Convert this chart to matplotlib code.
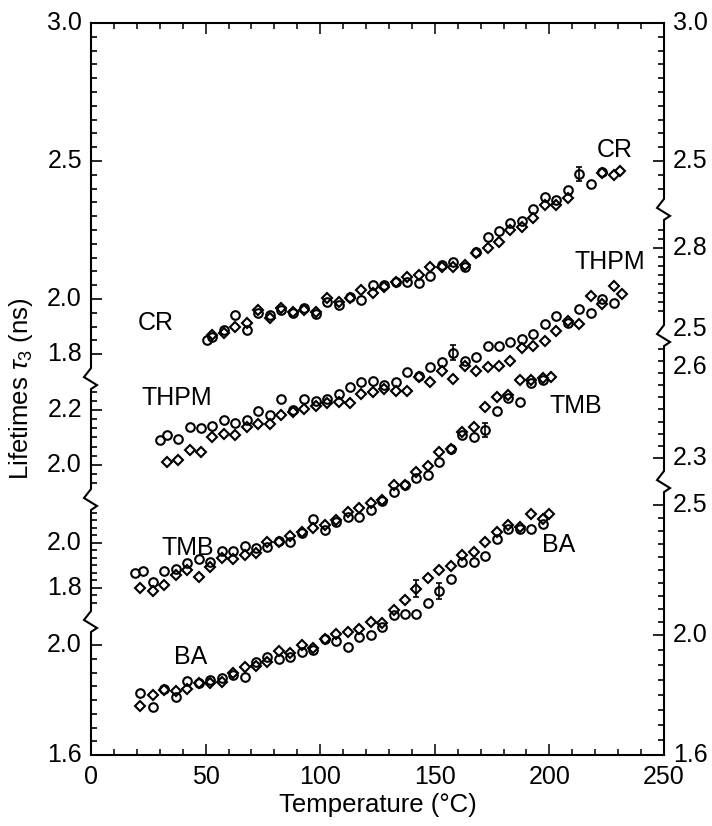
import numpy as np
import matplotlib.pyplot as plt
from matplotlib.ticker import MultipleLocator

plt.rcParams.update({
    "font.family": ["Liberation Sans", "DejaVu Sans"],
    "font.size": 18,
    "mathtext.fontset": "custom",
    "mathtext.rm": "Liberation Sans",
    "mathtext.it": "Liberation Sans:italic",
})

# --- lifetimes tau3 (ns) vs temperature (C), circles and diamonds per sample ---
cr_t_circ = [50.5, 53, 58, 63, 68, 73, 78, 83, 88, 93, 98, 103, 108, 113, 118, 123, 128, 133,
             138, 143, 148, 153, 158, 163, 168, 173, 178, 183, 188, 193, 198, 203, 208, 213, 218, 223]
cr_circ = [1.852, 1.862, 1.888, 1.942, 1.888, 1.948, 1.942, 1.960, 1.948, 1.966, 1.945, 1.990,
           1.978, 2.008, 1.996, 2.051, 2.051, 2.063, 2.063, 2.057, 2.083, 2.123, 2.135, 2.117,
           2.172, 2.224, 2.248, 2.274, 2.284, 2.325, 2.371, 2.359, 2.395, 2.452, 2.415, 2.460]
cr_t_diam = [53, 58, 63, 68, 73, 78, 83, 88, 93, 98, 103, 108, 113, 118, 123, 128, 133, 138,
             143, 148, 153, 158, 163, 168, 173, 178, 183, 188, 193, 198, 203, 208, 223, 228, 231]
cr_diam = [1.870, 1.876, 1.900, 1.914, 1.960, 1.930, 1.966, 1.952, 1.960, 1.954, 2.002, 1.990,
           2.002, 2.033, 2.021, 2.045, 2.060, 2.081, 2.087, 2.117, 2.117, 2.117, 2.123, 2.168,
           2.184, 2.208, 2.250, 2.262, 2.292, 2.341, 2.341, 2.365, 2.455, 2.448, 2.465]

thpm_t_circ = [30, 33, 38, 43, 48, 53, 58, 63, 68, 73, 78, 83, 88, 93, 98, 103, 108, 113, 118,
               123, 128, 133, 138, 143, 148, 153, 158, 163, 168, 173, 178, 183, 188, 193, 198,
               203, 208, 213, 218, 223, 228]
thpm_circ = [2.092, 2.107, 2.095, 2.137, 2.134, 2.143, 2.164, 2.152, 2.164, 2.195, 2.180, 2.240,
             2.200, 2.240, 2.234, 2.240, 2.258, 2.282, 2.301, 2.307, 2.289, 2.301, 2.337, 2.325,
             2.357, 2.373, 2.409, 2.379, 2.394, 2.433, 2.433, 2.446, 2.458, 2.476, 2.512, 2.542,
             2.518, 2.566, 2.554, 2.603, 2.590]
thpm_t_diam = [33, 38, 43, 48, 53, 58, 63, 68, 73, 78, 83, 88, 93, 98, 103, 108, 113, 118, 123,
               128, 133, 138, 143, 148, 153, 158, 163, 168, 173, 178, 183, 188, 193, 198, 203,
               208, 213, 218, 223, 228, 231.8]
thpm_diam = [2.011, 2.017, 2.053, 2.047, 2.101, 2.113, 2.107, 2.137, 2.150, 2.150, 2.183, 2.192,
             2.204, 2.216, 2.224, 2.228, 2.224, 2.258, 2.264, 2.276, 2.270, 2.270, 2.319, 2.301,
             2.343, 2.313, 2.361, 2.343, 2.357, 2.361, 2.379, 2.427, 2.434, 2.452, 2.488, 2.524,
             2.512, 2.615, 2.584, 2.651, 2.621]

tmb_t_circ = [19, 22.5, 27, 32, 37, 42, 47, 52, 57, 62, 67, 72, 77, 82, 87, 92, 97, 102, 107,
              112, 117, 122, 127, 132, 137, 142, 147, 152, 157, 162, 167, 172, 177, 182, 187,
              192, 197]
tmb_circ = [1.868, 1.877, 1.828, 1.877, 1.883, 1.912, 1.927, 1.917, 1.966, 1.966, 1.986, 1.976,
            1.983, 2.010, 2.006, 2.043, 2.105, 2.057, 2.094, 2.117, 2.114, 2.146, 2.188, 2.228,
            2.257, 2.287, 2.302, 2.361, 2.420, 2.480, 2.472, 2.502, 2.588, 2.643, 2.628, 2.710,
            2.725]
tmb_t_diam = [21.5, 27, 32, 37, 42, 47, 52, 57, 62, 67, 72, 77, 82, 87, 92, 97, 102, 107, 112,
              117, 122, 127, 132, 137, 142, 147, 152, 157, 162, 167, 172, 177, 182, 187, 192,
              197, 200.5]
tmb_diam = [1.801, 1.788, 1.813, 1.857, 1.880, 1.847, 1.895, 1.932, 1.927, 1.946, 1.957, 2.006,
            2.006, 2.031, 2.050, 2.065, 2.080, 2.102, 2.139, 2.154, 2.176, 2.191, 2.257, 2.257,
            2.317, 2.342, 2.406, 2.420, 2.494, 2.517, 2.606, 2.650, 2.660, 2.725, 2.725, 2.732,
            2.739]

ba_t_circ = [21.5, 27, 32, 37, 42, 47, 52, 57, 62, 67, 72, 77, 82, 87, 92, 97, 102, 107, 112,
             117, 122, 127, 132, 137, 142, 147, 152, 157, 162, 167, 172, 177, 182, 187, 192, 197]
ba_circ = [1.827, 1.776, 1.842, 1.810, 1.870, 1.863, 1.873, 1.879, 1.891, 1.885, 1.939, 1.957,
           1.948, 1.957, 1.976, 1.982, 2.024, 2.014, 1.994, 2.030, 2.036, 2.067, 2.109, 2.115,
           2.115, 2.154, 2.197, 2.242, 2.303, 2.303, 2.323, 2.388, 2.424, 2.424, 2.424, 2.442]
ba_t_diam = [21.5, 27, 32, 37, 42, 47, 52, 57, 62, 67, 72, 77, 82, 87, 92, 97, 102, 107, 112,
             117, 122, 127, 132, 137, 142, 147, 152, 157, 162, 167, 172, 177, 182, 187, 192, 197,
             200]
ba_diam = [1.778, 1.818, 1.836, 1.834, 1.839, 1.861, 1.863, 1.867, 1.897, 1.919, 1.924, 1.939,
           1.979, 1.970, 2.000, 1.988, 2.024, 2.042, 2.048, 2.060, 2.085, 2.079, 2.127, 2.164,
           2.206, 2.246, 2.273, 2.287, 2.327, 2.339, 2.375, 2.412, 2.436, 2.430, 2.479, 2.460,
           2.479]

# points carrying an error bar: (sample, marker kind, temperature, half-width in ns)
err_sample = ["CR", "THPM", "TMB", "BA", "BA"]
err_kind = ["circ", "circ", "circ", "diam", "circ"]
err_temp = [213, 158, 172, 142, 152]
err_size = [0.025, 0.027, 0.033, 0.030, 0.030]

samples = ["CR", "THPM", "TMB", "BA"]
series = {
    "CR": dict(circ=(cr_t_circ, cr_circ), diam=(cr_t_diam, cr_diam)),
    "THPM": dict(circ=(thpm_t_circ, thpm_circ), diam=(thpm_t_diam, thpm_diam)),
    "TMB": dict(circ=(tmb_t_circ, tmb_circ), diam=(tmb_t_diam, tmb_diam)),
    "BA": dict(circ=(ba_t_circ, ba_circ), diam=(ba_t_diam, ba_diam)),
}

# Stacked panels share one y axis ("height", in units of the top CR scale).
# Each broken segment of the left/right axis maps its own ns scale onto that height.
Y_LO, Y_HI = 0.348, 3.0
left_scales = {
    "CR": dict(vals=[2.0, 3.0], hts=[2.0, 3.0], span=(1.717, 3.0),
               labels=[1.8, 2.0, 2.5, 3.0], step=0.05),
    "THPM": dict(vals=[2.0, 2.2], hts=[1.399, 1.598], span=(1.279, 1.717),
                 labels=[2.0, 2.2], step=0.2 / 6),
    "TMB": dict(vals=[1.8, 2.0], hts=[0.953, 1.116], span=(0.837, 1.279),
                labels=[1.8, 2.0], step=0.2 / 6),
    "BA": dict(vals=[1.6, 2.0], hts=[0.348, 0.746], span=(0.348, 0.837),
               labels=[1.6, 2.0], step=0.05),
}
right_scales = {
    "CR": dict(vals=[2.5, 3.0], hts=[2.5, 3.0], span=(2.330, 3.0),
               labels=[2.5, 3.0], step=0.05),
    "THPM": dict(vals=[2.5, 2.8], hts=[1.891, 2.185], span=(1.873, 2.330),
                 labels=[2.5, 2.8], step=0.1 / 3),
    "TMB": dict(vals=[2.3, 2.6], hts=[1.424, 1.754], span=(1.344, 1.873),
                labels=[2.3, 2.6], step=0.04),
    "BA": dict(vals=[1.6, 2.0, 2.5], hts=[0.348, 0.783, 1.254], span=(0.348, 1.344),
               labels=[1.6, 2.0, 2.5], step=0.05),
}


def to_height(v, vals, hts):
    """Piecewise-linear map from ns to stack height, extrapolated at both ends."""
    v = np.atleast_1d(np.asarray(v, float))
    h = np.interp(v, vals, hts)
    lo, hi = v < vals[0], v > vals[-1]
    h[lo] = hts[0] + (v[lo] - vals[0]) * (hts[1] - hts[0]) / (vals[1] - vals[0])
    h[hi] = hts[-1] + (v[hi] - vals[-1]) * (hts[-1] - hts[-2]) / (vals[-1] - vals[-2])
    return h


fig = plt.figure(figsize=(7.12, 8.26), dpi=100)
ax = fig.add_axes([0.1278, 0.0860, 0.8048, 0.8862])
ax.set_xlim(0, 250)
ax.set_ylim(Y_LO, Y_HI)

AX_W_PX = 0.8048 * 712
PX_PER_H = 0.8862 * 826 / (Y_HI - Y_LO)

# data
mk = dict(ls="none", mfc="none", mec="k", mew=1.5, clip_on=False)
for name in samples:
    sc = left_scales[name]
    t, v = series[name]["circ"]
    ax.plot(t, to_height(v, sc["vals"], sc["hts"]), marker="o", ms=6.2, **mk)
    t, v = series[name]["diam"]
    ax.plot(t, to_height(v, sc["vals"], sc["hts"]), marker="D", ms=4.6, **mk)

for name, kind, temp, err in zip(err_sample, err_kind, err_temp, err_size):
    sc = left_scales[name]
    t, v = series[name][kind]
    val = v[list(t).index(temp)]
    lo, c, hi = to_height([val - err, val, val + err], sc["vals"], sc["hts"])
    ax.errorbar([temp], [c], yerr=[[c - lo], [hi - c]], fmt="none", ecolor="k",
                elinewidth=1.2, capsize=2.5, capthick=1.2)

# sample names, placed at (temperature, stack height)
name_x = [228.6, 28.4, 226.4, 37.5, 211.6, 42.3, 204.2, 43.6]
name_h = [2.54, 1.913, 2.134, 1.641, 1.612, 1.098, 1.109, 0.703]
name_txt = ["CR", "CR", "THPM", "THPM", "TMB", "TMB", "BA", "BA"]
for x, h, s in zip(name_x, name_h, name_txt):
    ax.text(x, h, s, ha="center", va="center", fontsize=18)

# broken left and right axes drawn by hand
ax.spines["left"].set_visible(False)
ax.spines["right"].set_visible(False)
ax.spines["top"].set_linewidth(1.5)
ax.spines["bottom"].set_linewidth(1.5)
ax.set_yticks([])
tr = ax.get_yaxis_transform()
zig = [(0, 9), (-7, 0), (6, -8), (0, -12)]
MAJ, MIN = 11 / AX_W_PX, 6 / AX_W_PX

for x0, sign, scales in [(0.0, 1, left_scales), (1.0, -1, right_scales)]:
    breaks = [scales[n]["span"][0] for n in samples[:-1]]
    xs, ys = [x0], [Y_HI]
    for b in breaks:
        for dx, dy in zig:
            xs.append(x0 + dx / AX_W_PX)
            ys.append(b + dy / PX_PER_H)
    xs.append(x0)
    ys.append(Y_LO)
    ax.plot(xs, ys, color="k", lw=1.5, transform=tr, clip_on=False, solid_joinstyle="miter")

    for name in samples:
        sc = scales[name]
        h_lo, h_hi = sc["span"]
        base, step = sc["labels"][0], sc["step"]
        ticks = base + step * np.arange(-40, 41)
        hts = to_height(ticks, sc["vals"], sc["hts"])
        margin_lo = 0 if h_lo <= Y_LO else 14 / PX_PER_H
        margin_hi = 0 if h_hi >= Y_HI else 14 / PX_PER_H
        keep = (hts >= h_lo + margin_lo - 1e-6) & (hts <= h_hi - margin_hi + 1e-6)
        for tv, th in zip(ticks[keep], hts[keep]):
            major = any(abs(tv - lab) < 1e-6 for lab in sc["labels"])
            ln = MAJ if major else MIN
            ax.plot([x0, x0 + sign * ln], [th, th], color="k", lw=1.2,
                    transform=tr, clip_on=False, solid_capstyle="butt")
        for lab in sc["labels"]:
            h = to_height(lab, sc["vals"], sc["hts"])[0]
            ax.text(x0 - sign * 9 / AX_W_PX, h, f"{lab:.1f}", transform=tr,
                    ha="right" if sign > 0 else "left", va="center", fontsize=18)

ax.set_xticks([0, 50, 100, 150, 200, 250])
ax.xaxis.set_minor_locator(MultipleLocator(10))
ax.tick_params(axis="x", which="both", direction="in", top=True, width=1.1, pad=7,
               labelsize=18)
ax.tick_params(axis="x", which="major", length=8)
ax.tick_params(axis="x", which="minor", length=4.5)

ax.set_xlabel("Temperature (°C)", fontsize=18.5, labelpad=3)
ax.set_ylabel(r"Lifetimes $\tau_3$ (ns)", fontsize=18.5)
ax.yaxis.set_label_coords(-0.098, 0.5)

fig.savefig("out.png", dpi=100)
